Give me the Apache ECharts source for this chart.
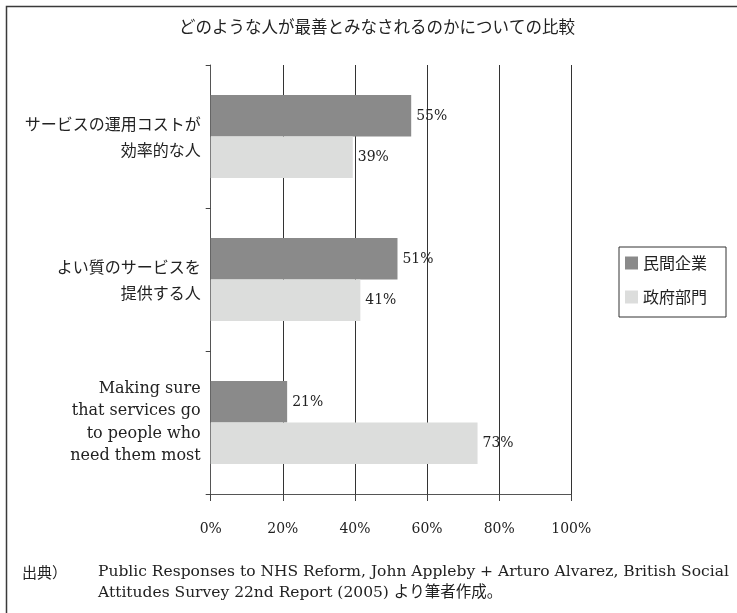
<!DOCTYPE html>
<html>
<head>
<meta charset="utf-8">
<script src="https://cdn.jsdelivr.net/npm/echarts@6/dist/echarts.min.js"></script>
<style>html,body{margin:0;padding:0;background:#fff}#c{width:737px;height:613px}</style>
</head>
<body>
<div id="c"></div>
<script>
var titleText = 'どのような人が最善とみなされるのかについての比較';
var categories = ['サービスの運用コストが\n効率的な人', 'よい質のサービスを\n提供する人', 'Making sure\nthat services go\nto people who\nneed them most'];
var seriesNames = ['民間企業', '政府部門'];
var privateValues = [55.6, 51.8, 21.2];
var publicValues = [39.4, 41.5, 74.0];
var privateLabels = ['55%', '51%', '21%'];
var publicLabels = ['39%', '41%', '73%'];
var xTicks = [0, 20, 40, 60, 80, 100];
var sourceHead = '出典）';
var sourceText = 'Public Responses to NHS Reform, John Appleby + Arturo Alvarez, British Social\nAttitudes Survey 22nd Report (2005) より筆者作成。';

var SERIF = '"DejaVu Serif", "Noto Sans CJK JP"';
var SERIFC = '"DejaVu Serif Condensed", "DejaVu Serif", "Noto Sans CJK JP"';
var CJK = '"Noto Sans CJK JP"';

var chart = echarts.init(document.getElementById('c'), null, {renderer: 'canvas'});
chart.setOption({
  animation: false,
  backgroundColor: '#fff',
  grid: {left: 210.7, right: 165.7, top: 65, bottom: 119, containLabel: false},
  xAxis: {
    type: 'value', min: xTicks[0], max: xTicks[xTicks.length - 1], interval: 20,
    axisLine: {show: true, lineStyle: {color: '#555', width: 1}},
    axisTick: {show: true, length: 7, lineStyle: {color: '#444'}},
    splitLine: {show: true, lineStyle: {color: '#333', width: 1}},
    axisLabel: {formatter: '{value}%', color: '#222', fontFamily: SERIFC, fontSize: 15.5, margin: 27}
  },
  yAxis: {
    type: 'category', inverse: true, data: categories,
    axisLine: {show: true, lineStyle: {color: '#555', width: 1}},
    axisTick: {show: true, length: 5, lineStyle: {color: '#444'}},
    splitLine: {show: false},
    axisLabel: {
      margin: 10, align: 'right',
      formatter: function (v, i) { return i < 2 ? '{jp|' + v + '}' : '{en|' + v + '}'; },
      rich: {
        jp: {fontFamily: CJK, fontSize: 16, lineHeight: 26, color: '#222', align: 'right'},
        en: {fontFamily: SERIF, fontSize: 16, lineHeight: 22.5, color: '#222', align: 'right'}
      }
    }
  },
  legend: {
    orient: 'vertical', left: 619, top: 247,
    data: seriesNames,
    icon: 'rect', itemWidth: 13, itemHeight: 13, itemGap: 18,
    borderColor: '#333', borderWidth: 1,
    padding: [8, 19, 12, 6],
    textStyle: {fontFamily: CJK, fontSize: 16, color: '#222'}
  },
  series: [
    {
      name: seriesNames[0], type: 'bar', data: privateValues,
      barGap: '0%', barCategoryGap: '42%',
      itemStyle: {color: '#8a8a8a'},
      label: {show: true, position: 'right', distance: 5, color: '#222', fontFamily: SERIFC, fontSize: 15.5,
        formatter: function (p) { return privateLabels[p.dataIndex]; }}
    },
    {
      name: seriesNames[1], type: 'bar', data: publicValues,
      barGap: '0%', barCategoryGap: '42%',
      itemStyle: {color: '#dcdddc'},
      label: {show: true, position: 'right', distance: 5, color: '#222', fontFamily: SERIFC, fontSize: 15.5,
        formatter: function (p) { return publicLabels[p.dataIndex]; }}
    }
  ],
  graphic: [
    {type: 'rect', silent: true, shape: {x: 6.5, y: 6.5, width: 800, height: 800},
      style: {fill: 'none', stroke: '#3a3a3a', lineWidth: 1.5}},
    {type: 'text', x: 377, y: 27, silent: true,
      style: {text: titleText, fontFamily: CJK, fontSize: 16.5, fill: '#222', align: 'center', verticalAlign: 'middle'}},
    {type: 'text', x: 22, y: 572, silent: true,
      style: {text: sourceHead, fontFamily: CJK, fontSize: 15, fill: '#222', align: 'left', verticalAlign: 'middle'}},
    {type: 'text', x: 98, y: 561.5, silent: true,
      style: {text: sourceText, fontFamily: SERIF, fontSize: 15.5, lineHeight: 21, fill: '#222', align: 'left', verticalAlign: 'top'}}
  ]
});
</script>
</body>
</html>
